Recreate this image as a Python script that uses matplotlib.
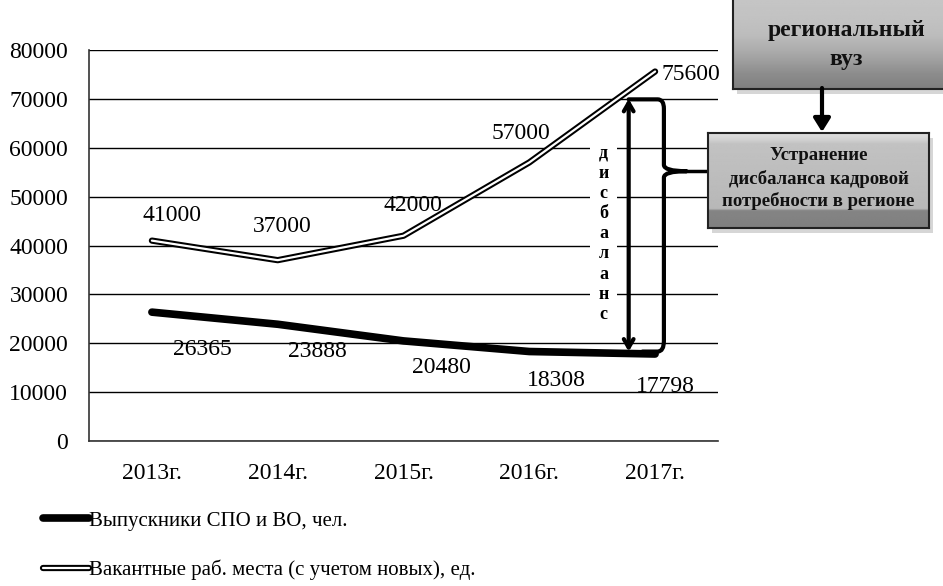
import numpy as np
import matplotlib
matplotlib.use("Agg")
import matplotlib.pyplot as plt
from matplotlib.legend_handler import HandlerTuple
from matplotlib.lines import Line2D
from matplotlib.path import Path
from matplotlib.patches import PathPatch, Rectangle, FancyArrowPatch

years = ["2013г.", "2014г.", "2015г.", "2016г.", "2017г."]
graduates = [26365, 23888, 20480, 18308, 17798]
vacancies = [41000, 37000, 42000, 57000, 75600]
yticks = [0, 10000, 20000, 30000, 40000, 50000, 60000, 70000, 80000]

grad_label = "Выпускники СПО и ВО, чел."
vac_label = "Вакантные раб. места (с учетом новых), ед."

# label offsets in pixels (dx, dy)
vac_offsets = [(20, 25), (5, 34), (9, 30), (-8, 29), (36, -3)]
grad_offsets = [(50, -37), (40, -27), (38, -27), (27, -29), (10, -32)]

plt.rcParams["font.family"] = ["Liberation Serif", "DejaVu Serif"]

W, H = 943, 586
fig = plt.figure(figsize=(W / 100, H / 100), dpi=100)
fig.patch.set_facecolor("white")


def fx(px):
    return px / W


def fy(py):
    return 1 - py / H


ax = fig.add_axes([fx(89), fy(441), fx(718) - fx(89), fy(50) - fy(441)])
x = np.arange(len(years))

ax.set_xlim(-0.5, len(years) - 0.5)
ax.set_ylim(0, 80000)
ax.set_yticks(yticks)
ax.set_yticklabels([str(v) for v in yticks], fontsize=17)
ax.set_xticks(x)
ax.set_xticklabels(years, fontsize=17)
ax.tick_params(axis="x", length=0, pad=16)
ax.tick_params(axis="y", length=0, pad=15)
ax.grid(axis="y", color="black", lw=1.0)
ax.set_axisbelow(True)
for s in ["top", "right"]:
    ax.spines[s].set_visible(False)
for s in ["left", "bottom"]:
    ax.spines[s].set_color("#333333")
    ax.spines[s].set_linewidth(1.2)

# thick black line for graduates, double line (black outline + white core) for vacancies
ax.plot(x, graduates, color="black", lw=5.5, solid_capstyle="round", zorder=4)
ax.plot(x, vacancies, color="black", lw=4.5, solid_capstyle="round", zorder=4)
ax.plot(x, vacancies, color="white", lw=1.6, solid_capstyle="round", zorder=5)

for xi, v, (dx, dy) in zip(x, vacancies, vac_offsets):
    ax.annotate(str(v), (xi, v), xytext=(dx, dy), textcoords="offset pixels",
                ha="center", va="center", fontsize=17, zorder=6)
for xi, v, (dx, dy) in zip(x, graduates, grad_offsets):
    ax.annotate(str(v), (xi, v), xytext=(dx, dy), textcoords="offset pixels",
                ha="center", va="center", fontsize=17, zorder=6)

# gap arrow between the two series in 2017
gap_x = 3.79
ax.annotate("", xy=(gap_x, 70000), xytext=(gap_x, 18300),
            arrowprops=dict(arrowstyle="<->,head_length=0.6,head_width=0.35",
                            color="black", lw=3, shrinkA=0, shrinkB=0),
            zorder=7, annotation_clip=False)
ax.text(3.59, 42400, "\n".join("дисбаланс"), ha="center", va="center",
        fontsize=13, fontweight="bold", linespacing=1.24, zorder=6,
        bbox=dict(boxstyle="square,pad=0.45", fc="white", ec="none"))

# curly brace from the gap to the box on the right
bx = 4.07
tip = 4.25
verts = [(gap_x, 69900), (bx - 0.05, 69900), (bx, 69900), (bx, 68000),
         (bx, 56500), (bx, 55200), (tip, 55200),
         (bx, 55200), (bx, 53900), (bx, 52500),
         (bx, 20500), (bx, 18300), (bx - 0.05, 18300), (3.9, 18300)]
codes = [Path.MOVETO, Path.LINETO, Path.CURVE3, Path.CURVE3,
         Path.LINETO, Path.CURVE3, Path.CURVE3,
         Path.CURVE3, Path.CURVE3, Path.LINETO,
         Path.LINETO, Path.CURVE3, Path.CURVE3, Path.LINETO]
brace = PathPatch(Path(verts, codes), fc="none", ec="black", lw=3,
                  capstyle="round", joinstyle="round", zorder=7, clip_on=False)
ax.add_patch(brace)
ax.plot([tip, 4.46], [55200, 55200], color="black", lw=2.5, zorder=7,
        clip_on=False)


def gray_box(x0, y0, x1, y1, stops, lines, fontsize):
    # shadow first, then the box filled with a vertical gray gradient
    sh = fig.add_axes([fx(x0 + 4), fy(y1 + 5), fx(x1 - x0), fy(y0) - fy(y1)])
    sh.axis("off")
    sh.add_patch(Rectangle((0, 0), 1, 1, transform=sh.transAxes,
                           fc="#bbbbbb", ec="none", alpha=0.6))
    bax = fig.add_axes([fx(x0), fy(y1), fx(x1 - x0), fy(y0) - fy(y1)])
    pos = np.linspace(0, 1, 200)
    grad = np.interp(pos, [p for p, _ in stops], [c for _, c in stops])
    bax.imshow(grad[:, None], aspect="auto", cmap="gray", vmin=0, vmax=1,
               extent=(0, 1, 1, 0))
    bax.set_xticks([])
    bax.set_yticks([])
    bax.set_xlim(0, 1)
    bax.set_ylim(1, 0)
    for s in bax.spines.values():
        s.set_linewidth(1.5)
        s.set_color("#222222")
    for ty, t in lines:
        bax.text(0.5, ty, t, ha="center", va="center", fontsize=fontsize,
                 fontweight="bold", color="#111111")
    return bax


gray_box(733, -10, 960, 89,
         [(0, 0.78), (0.3, 0.76), (0.45, 0.74), (0.6, 0.68), (0.72, 0.62),
          (0.85, 0.55), (1, 0.50)],
         [(0.41, "региональный"), (0.70, "вуз")], 17)
gray_box(708, 133, 929, 228,
         [(0, 0.88), (0.08, 0.82), (0.12, 0.76), (0.8, 0.72), (0.82, 0.52),
          (1, 0.50)],
         [(0.24, "Устранение"), (0.48, "дисбаланса кадровой"),
          (0.72, "потребности в регионе")], 13.5)

# arrow from the upper box to the lower one
fig.add_artist(FancyArrowPatch(
    (fx(822), fy(88)), (fx(822), fy(132)), transform=fig.transFigure,
    arrowstyle="-|>,head_length=8,head_width=5", color="black", lw=3,
    shrinkA=0, shrinkB=0, zorder=10))

grad_h = Line2D([], [], color="black", lw=5.5, solid_capstyle="round")
vac_outer = Line2D([], [], color="black", lw=4.5, solid_capstyle="round")
vac_inner = Line2D([], [], color="white", lw=1.6, solid_capstyle="round")
fig.legend([grad_h, (vac_outer, vac_inner)], [grad_label, vac_label],
           handler_map={tuple: HandlerTuple(ndivide=1, pad=0)},
           loc="upper left", bbox_to_anchor=(fx(43), fy(511)),
           frameon=False, fontsize=15, handlelength=2.2, handletextpad=0.0,
           labelspacing=1.4, borderaxespad=0, borderpad=0)

fig.savefig("out.png", dpi=100, facecolor="white")
